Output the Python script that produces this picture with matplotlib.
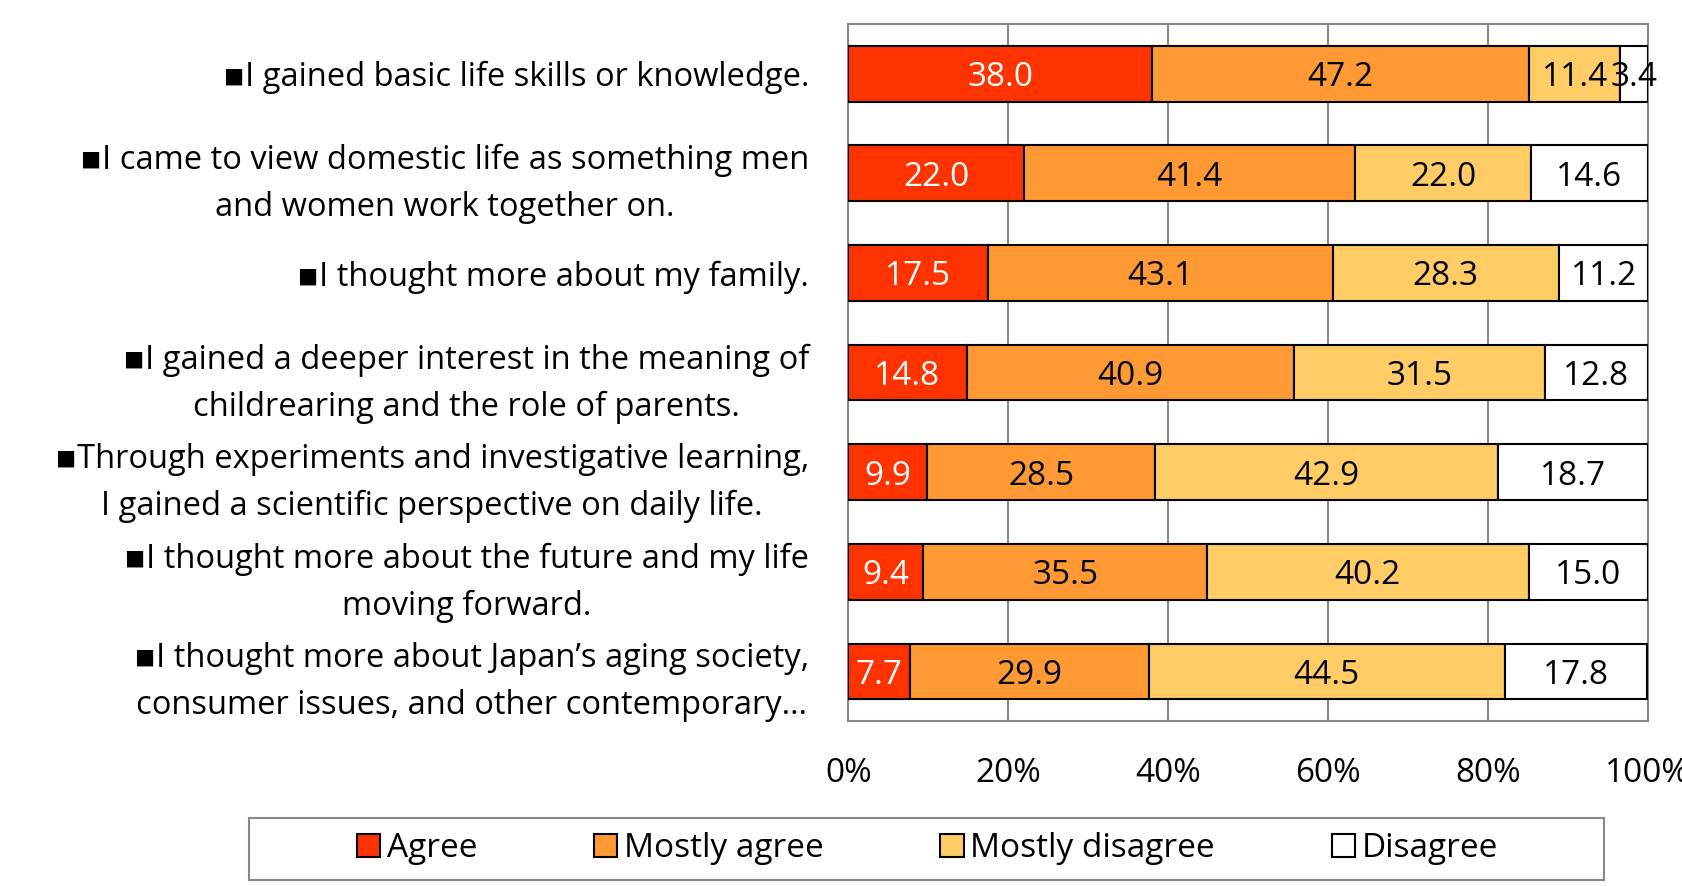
import matplotlib.pyplot as plt
from matplotlib.patches import Rectangle
import numpy as np

# ---- data ----
statements = [
    "\u25aaI gained basic life skills or knowledge.",
    "\u25aaI came to view domestic life as something men\nand women work together on.",
    "\u25aaI thought more about my family.",
    "\u25aaI gained a deeper interest in the meaning of\nchildrearing and the role of parents.",
    "\u25aaThrough experiments and investigative learning,\nI gained a scientific perspective on daily life.",
    "\u25aaI thought more about the future and my life\nmoving forward.",
    "\u25aaI thought more about Japan\u2019s aging society,\nconsumer issues, and other contemporary\u2026",
]
categories = ["Agree", "Mostly agree", "Mostly disagree", "Disagree"]
agree = [38.0, 22.0, 17.5, 14.8, 9.9, 9.4, 7.7]
mostly_agree = [47.2, 41.4, 43.1, 40.9, 28.5, 35.5, 29.9]
mostly_disagree = [11.4, 22.0, 28.3, 31.5, 42.9, 40.2, 44.5]
disagree = [3.4, 14.6, 11.2, 12.8, 18.7, 15.0, 17.8]
colors = ["#ff3300", "#ff9933", "#ffcc66", "#ffffff"]
text_colors = ["white", "black", "black", "black"]

plt.rcParams['font.family'] = ['Open Sans', 'DejaVu Sans']

fig = plt.figure(figsize=(16.83, 8.86), dpi=100)
ax = fig.add_axes([0.504, 0.186, 0.475, 0.787])

series = [agree, mostly_agree, mostly_disagree, disagree]
y = np.arange(len(statements))
left = np.zeros(len(statements))
bars = []
for vals, name, col, tcol in zip(series, categories, colors, text_colors):
    vals = np.array(vals)
    b = ax.barh(y, vals, left=left, height=0.56, color=col,
                edgecolor='black', linewidth=1.5, label=name, zorder=3)
    bars.append(b)
    for yi, (l, v) in enumerate(zip(left, vals)):
        ax.text(l + v / 2, yi, f"{v:.1f}", ha='center', va='center_baseline',
                color=tcol, fontsize=24, zorder=4, clip_on=False)
    left = left + vals

ax.set_xlim(0, 100)
ax.set_ylim(len(statements) - 0.5, -0.5)
ax.set_xticks([0, 20, 40, 60, 80, 100])
ax.set_xticklabels(["0%", "20%", "40%", "60%", "80%", "100%"], fontsize=24)
ax.tick_params(axis='x', length=0, pad=26)
ax.set_yticks(y)
ax.set_yticklabels(statements, fontsize=23.5, linespacing=1.55,
                   multialignment='center')
for lbl in ax.get_yticklabels():
    lbl.set_verticalalignment('center_baseline')
ax.tick_params(axis='y', length=0, pad=28)
ax.grid(axis='x', color='#888888', linewidth=1.5, zorder=0)
for s in ax.spines.values():
    s.set_color('#888888')
    s.set_linewidth(1.5)

# legend: entries without frame, box drawn separately to match width
leg = fig.legend(handles=bars, labels=categories, loc='center',
                 bbox_to_anchor=(0.551, 0.042), ncol=4, fontsize=24,
                 frameon=False, handlelength=0.7, handleheight=0.7,
                 handletextpad=0.2, columnspacing=3.5, borderaxespad=0)
fig.patches.append(Rectangle((0.148, 0.007), 0.805, 0.070,
                             transform=fig.transFigure, fill=False,
                             edgecolor='#888888', linewidth=1.5))

fig.savefig("out.png", dpi=100)
